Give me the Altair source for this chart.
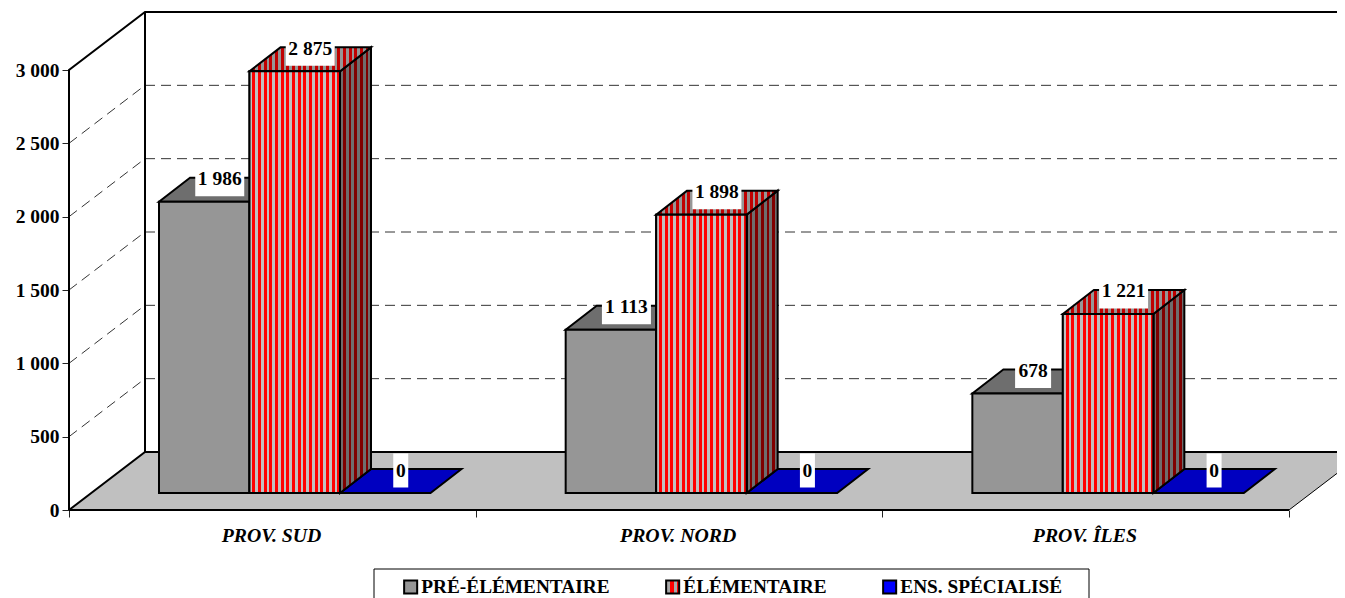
import altair as alt
import pandas as pd

categories = ["PROV. SUD", "PROV. NORD", "PROV. ÎLES"]
series = ["PRÉ-ÉLÉMENTAIRE", "ÉLÉMENTAIRE", "ENS. SPÉCIALISÉ"]
pre_elementaire = [1986, 1113, 678]
elementaire = [2875, 1898, 1221]
specialise = [0, 0, 0]
y_ticks = [0, 500, 1000, 1500, 2000, 2500, 3000]
grid_values = [500, 1000, 1500, 2000, 2500]

FONT = "Liberation Serif"
PX_X = 1 / 406.67      # category units per pixel
PX_Y = 500 / 73.333    # value units per pixel
W, H = 1268, 502
X_MAX = W * PX_X
Y_MAX = H * PX_Y
WALL_X, WALL_Y = 76 * PX_X, 58 * PX_Y
FRONT_X, FRONT_Y = 22 * PX_X, 17 * PX_Y
DEPTH_X, DEPTH_Y = 31 * PX_X, 24 * PX_Y
BAR_W = 90.5 * PX_X
GAP = 68 * PX_X
STRIPE = 5.67


def fmt(v):
    return f"{v:,}".replace(",", " ")


def stripes(period_px, width_px, light, dark):
    stops, pos, i = [], 0.0, 0
    while pos < width_px:
        c = light if i % 2 == 0 else dark
        end = min(pos + period_px / 2, width_px)
        stops.append(alt.GradientStop(color=c, offset=pos / width_px))
        stops.append(alt.GradientStop(color=c, offset=end / width_px))
        pos, i = end, i + 1
    return alt.LinearGradient(gradient="linear", x1=0, y1=0, x2=1, y2=0, stops=stops)


rows = []
for g, cat in enumerate(categories):
    for s, (name, vals) in enumerate(zip(series, [pre_elementaire, elementaire, specialise])):
        x0 = g + FRONT_X + GAP + s * BAR_W
        rows.append(dict(id=f"{g}-{s}", g=g, s=s, series=name, value=vals[g], label=fmt(vals[g]),
                         x0=x0, x1=x0 + BAR_W, y0=FRONT_Y, y1=FRONT_Y + vals[g]))
bars = pd.DataFrame(rows)

top_rows, side_rows = [], []
for b in rows:
    top_rows.append(dict(id=b["id"], s=b["s"], y=b["y1"], xl=b["x0"], xr=b["x1"]))
    top_rows.append(dict(id=b["id"], s=b["s"], y=b["y1"] + DEPTH_Y, xl=b["x0"] + DEPTH_X, xr=b["x1"] + DEPTH_X))
    side_rows.append(dict(id=b["id"], s=b["s"], x=b["x1"], yt=b["y1"], yb=b["y0"]))
    side_rows.append(dict(id=b["id"], s=b["s"], x=b["x1"] + DEPTH_X, yt=b["y1"] + DEPTH_Y, yb=b["y0"] + DEPTH_Y))
tops = pd.DataFrame(top_rows)
sides = pd.DataFrame(side_rows)

labels = bars.copy()
labels["cx"] = (labels.x0 + labels.x1) / 2 + DEPTH_X / 2
labels["cy"] = labels.y1 + 22.5 * PX_Y
labels["hw"] = labels.label.str.len().map({1: 7.5, 3: 18, 5: 24.5}) * PX_X
labels["bx0"] = labels.cx - labels.hw
labels["bx1"] = labels.cx + labels.hw
labels["by0"] = labels.cy - 17 * PX_Y
labels["by1"] = labels.cy + 17 * PX_Y

xs = alt.Scale(domain=[0, X_MAX], nice=False, zero=False)
ys = alt.Scale(domain=[0, Y_MAX], nice=False, zero=False)

label_expr = ("datum.value < 3 ? ['" + "','".join(categories) + "'][datum.value] : ''")
y_axis = alt.Axis(
    values=y_ticks, domain=False, grid=False, tickSize=7, tickWidth=1, tickColor="#222",
    labelFont=FONT, labelFontSize=19.5, labelFontWeight="bold", labelColor="black", labelPadding=3,
    labelOverlap=False, labelBound=False, labelFlush=False,
    labelExpr="replace(format(datum.value, ','), ',', ' ')")
x_axis = alt.Axis(
    values=[0, 1, 2, 3], domain=False, grid=False, tickSize=7, tickWidth=1, tickColor="#222",
    labelFont=FONT, labelFontSize=19.8, labelFontWeight="bold", labelFontStyle="italic", labelColor="black",
    labelPadding=8, labelOverlap=False, labelBound=False, labelFlush=False, labelOffset=202,
    labelExpr=label_expr)
X = lambda f: alt.X(f, scale=xs, title=None, axis=x_axis)
Y = lambda f: alt.Y(f, scale=ys, title=None, axis=y_axis)

floor = pd.DataFrame({"y": [0, WALL_Y], "xl": [0, WALL_X], "xr": [3, 3 + WALL_X]})
floor_l = alt.Chart(floor).mark_area(orient="horizontal", color="#C0C0C0", clip=True).encode(
    y=Y("y:Q"), x=X("xl:Q"), x2="xr:Q")

grid_h = pd.DataFrame({"v": grid_values})
grid_h["y"] = grid_h.v + WALL_Y
grid_h["x"] = WALL_X
grid_h["x2"] = X_MAX
grid_back = alt.Chart(grid_h).mark_rule(color="#333333", strokeWidth=1, strokeDash=[10, 6]).encode(
    x=X("x:Q"), x2="x2:Q", y=Y("y:Q"))
diag_rows = []
for v in grid_values:
    diag_rows.append(dict(id=v, x=0, y=v))
    diag_rows.append(dict(id=v, x=WALL_X, y=v + WALL_Y))
grid_side = alt.Chart(pd.DataFrame(diag_rows)).mark_line(color="black", strokeWidth=0.8, strokeDash=[10, 6]).encode(
    x=X("x:Q"), y=Y("y:Q"), detail="id:N", order="x:Q")

T = y_ticks[-1]
frame_rows = []
for i, pts in enumerate([
    [(0, 0), (0, T), (WALL_X, T + WALL_Y), (X_MAX, T + WALL_Y)],
    [(WALL_X, WALL_Y), (WALL_X, T + WALL_Y)],
    [(0, 0), (WALL_X, WALL_Y), (X_MAX, WALL_Y)],
    [(0, 0), (3, 0)],
]):
    for k, (x, y) in enumerate(pts):
        frame_rows.append(dict(id=i, k=k, x=x, y=y))
frame = alt.Chart(pd.DataFrame(frame_rows)).mark_line(color="black", strokeWidth=2).encode(
    x=X("x:Q"), y=Y("y:Q"), detail="id:N", order="k:Q")
edge = pd.DataFrame({"x": [3, 3 + WALL_X], "y": [0, WALL_Y]})
right_edge = alt.Chart(edge).mark_line(color="black", strokeWidth=1, clip=True).encode(
    x=X("x:Q"), y=Y("y:Q"))


def top_face(s, fill):
    return alt.Chart(tops[tops.s == s]).mark_area(
        orient="horizontal", fill=fill, stroke="black", strokeWidth=2, strokeJoin="miter").encode(
        y=Y("y:Q"), x=X("xl:Q"), x2="xr:Q", detail="id:N")


def side_face(s, fill):
    return alt.Chart(sides[sides.s == s]).mark_area(
        fill=fill, stroke="black", strokeWidth=2, strokeJoin="miter").encode(
        x=X("x:Q"), y=Y("yt:Q"), y2="yb:Q", detail="id:N")


legend_stripes = ("{gradient:'linear',x1:0,y1:0,x2:1,y2:0,stops:["
                  "{offset:0,color:'#A8A8A8'},{offset:0.3,color:'#A8A8A8'},"
                  "{offset:0.3,color:'#FF0000'},{offset:0.6,color:'#FF0000'},"
                  "{offset:0.6,color:'#A8A8A8'},{offset:0.8,color:'#A8A8A8'},"
                  "{offset:0.8,color:'#FF0000'},{offset:1,color:'#FF0000'}]}")

fronts = alt.Chart(bars).mark_rect(stroke="black", strokeWidth=2).encode(
    x=X("x0:Q"), x2="x1:Q", y=Y("y0:Q"), y2="y1:Q",
    color=alt.Color("series:N", scale=alt.Scale(domain=series, range=["#969696", {"expr": legend_stripes}, "#0000FF"]),
                    legend=alt.Legend(
                        title=None, orient="none", legendX=305, legendY=561, direction="horizontal", columns=3,
                        symbolType="square", symbolSize=170, symbolStrokeWidth=2, symbolStrokeColor="black",
                        symbolOffset=19, symbolOpacity=1, labelFont=FONT, labelFontSize=19.3, labelFontWeight="bold",
                        labelColor="black", labelOffset=1, columnPadding=34, padding=8, labelLimit=400)))

legend_frame = alt.Chart(alt.Data(values=[{"box": 1}])).mark_rect(
    fillOpacity=0, stroke="black", strokeWidth=1).encode(
    x=alt.value(305), x2=alt.value(1020), y=alt.value(561), y2=alt.value(600))

striped_front = alt.Chart(bars[bars.s == 1]).mark_rect(
    fill=stripes(STRIPE, 90.5, "#C0C0C0", "#FF0000"), stroke="black", strokeWidth=2).encode(
    x=X("x0:Q"), x2="x1:Q", y=Y("y0:Q"), y2="y1:Q")

boxes = alt.Chart(labels).mark_rect(color="white").encode(
    x=X("bx0:Q"), x2="bx1:Q", y=Y("by0:Q"), y2="by1:Q")
texts = alt.Chart(labels).mark_text(
    font=FONT, fontSize=19.5, fontWeight="bold", color="black", align="center", baseline="middle").encode(
    x=X("cx:Q"), y=Y("cy:Q"), text="label:N")

chart = alt.layer(
    floor_l, grid_back, grid_side, frame, right_edge,
    top_face(2, "#0000C0"),
    top_face(0, "#6E6E6E"),
    side_face(1, stripes(STRIPE, 31, "#6E6E6E", "#800000")),
    top_face(1, stripes(STRIPE, 121.5, "#969696", "#C00000")),
    fronts, striped_front, boxes, texts, legend_frame,
).properties(
    width=W, height=H,
    padding={"left": 61, "top": 0, "right": 0, "bottom": 88},
    autosize=alt.AutoSizeParams(type="none"),
    background="white",
).configure_view(stroke=None)

chart.save("out.html", embed_options={"renderer": "svg", "actions": False})
